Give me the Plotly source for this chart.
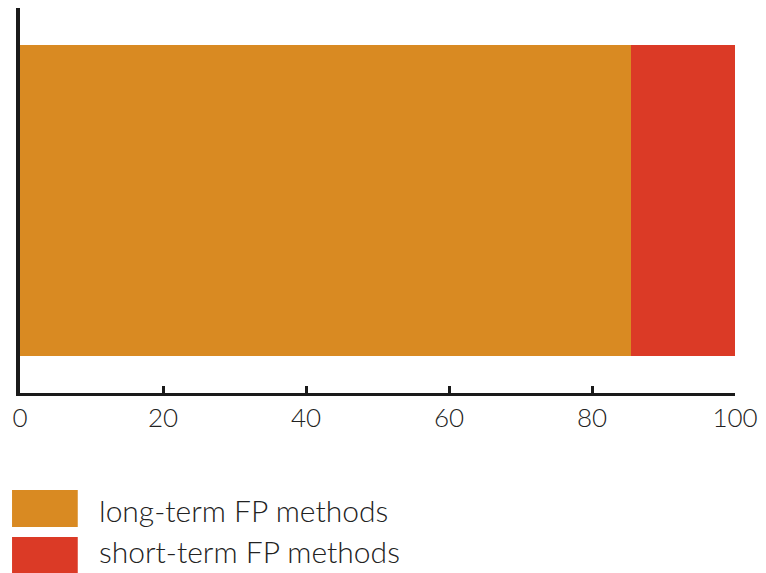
import plotly.graph_objects as go

categories = [""]
series_names = ["long-term FP methods", "short-term FP methods"]
series_values = [[85.5], [14.5]]
series_colors = ["#D98A22", "#DB3A26"]
tick_vals = [0, 20, 40, 60, 80, 100]
tick_labels = ["0", "20", "40", "60", "80", "100"]

W, H = 766, 573
L, T = 20, 8
R = W - 738
B = H - 393
pw, ph = W - L - R, H - T - B

def px_x(p):
    return (p - L) / pw

def px_y(p):
    return (H - B - p) / ph

TICKFONT = dict(family="Lato, 'Open Sans', sans-serif", size=26, color="#222222", weight=300)
LEGFONT = dict(family="Lato, 'Open Sans', sans-serif", size=30, color="#222222", weight=300)

fig = go.Figure()
for name, vals, col in zip(series_names, series_values, series_colors):
    fig.add_trace(go.Bar(
        y=categories, x=vals, name=name, orientation="h",
        marker=dict(color=col, line=dict(width=0)), width=0.81,
        showlegend=False, hoverinfo="x+name",
    ))

# manual legend with large swatches
legend_rows = [(490, 527), (537, 574)]
text_centers = [509.5, 550.5]
for (y0, y1), yc, name, col in zip(legend_rows, text_centers, series_names, series_colors):
    fig.add_shape(type="rect", xref="paper", yref="paper",
                  x0=px_x(12), x1=px_x(78), y0=px_y(y1), y1=px_y(y0),
                  fillcolor=col, line=dict(width=0))
    fig.add_annotation(xref="paper", yref="paper", x=px_x(97), y=px_y(yc),
                       text=name, showarrow=False, xanchor="left", yanchor="middle",
                       font=LEGFONT)

fig.update_layout(
    barmode="stack",
    width=W, height=H,
    margin=dict(l=L, r=R, t=T, b=B),
    paper_bgcolor="white", plot_bgcolor="white",
    font=TICKFONT,
    xaxis=dict(range=[0, 100], tickvals=tick_vals, ticktext=tick_labels,
               showgrid=False, zeroline=False, showline=True, linewidth=3,
               linecolor="#1a1a1a", ticks="inside", ticklen=7, tickwidth=3,
               tickcolor="#1a1a1a", tickfont=TICKFONT, ticklabeloverflow="allow",
               fixedrange=True),
    yaxis=dict(range=[-0.5, 0.5], showticklabels=False, showgrid=False,
               zeroline=False, showline=True, linewidth=4, linecolor="#1a1a1a",
               ticks="", fixedrange=True),
)

fig.write_html("out.html", config={"displayModeBar": False},
               post_script="document.body.style.margin='0px';")
